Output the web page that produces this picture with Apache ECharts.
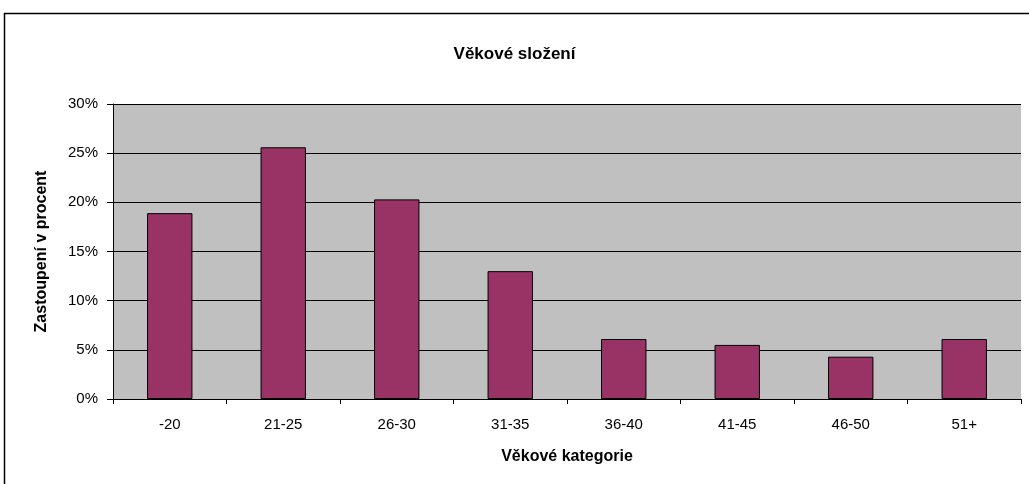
<!DOCTYPE html>
<html>
<head>
<meta charset="utf-8">
<script src="https://cdn.jsdelivr.net/npm/echarts@6/dist/echarts.min.js"></script>
<style>
  html, body { margin: 0; padding: 0; background: #fff; }
  #chart { width: 1029px; height: 484px; }
</style>
</head>
<body>
<div id="chart"></div>
<script>
// data
var categories = ['-20', '21-25', '26-30', '31-35', '36-40', '41-45', '46-50', '51+']
var shares = [18.9, 25.6, 20.3, 13.0, 6.1, 5.5, 4.3, 6.1]
var yTicks = { min: 0, max: 30, step: 5 }

var font = '"Liberation Sans", Arial, sans-serif'
var chart = echarts.init(document.getElementById('chart'))

chart.setOption({
  animation: false,
  textStyle: { fontFamily: font },
  title: {
    text: 'Věkové složení',
    left: 'center',
    top: 41,
    textStyle: { fontSize: 17, fontWeight: 'bold', color: '#000', fontFamily: font }
  },
  graphic: [{
    type: 'rect',
    shape: { x: 4.5, y: 13.5, width: 1200, height: 700 },
    style: { fill: 'none', stroke: '#000', lineWidth: 1.5 },
    silent: true
  }],
  grid: {
    left: 113,
    right: 8,
    top: 104,
    bottom: 85,
    show: true,
    backgroundColor: '#C0C0C0',
    borderWidth: 0
  },
  xAxis: {
    type: 'category',
    data: categories,
    name: 'Věkové kategorie',
    nameLocation: 'middle',
    nameGap: 50,
    nameTextStyle: { fontSize: 16, fontWeight: 'bold', color: '#000', fontFamily: font },
    axisLine: { lineStyle: { color: '#000', width: 1 } },
    axisTick: { show: true, length: 5, lineStyle: { color: '#000' } },
    axisLabel: { fontSize: 15, color: '#000', margin: 18, fontFamily: font }
  },
  yAxis: {
    type: 'value',
    min: yTicks.min,
    max: yTicks.max,
    interval: yTicks.step,
    name: 'Zastoupení v procent',
    nameLocation: 'middle',
    nameGap: 63,
    nameTextStyle: { fontSize: 16, fontWeight: 'bold', color: '#000', fontFamily: font },
    axisLine: { show: true, lineStyle: { color: '#000', width: 1 } },
    axisTick: { show: true, length: 6, lineStyle: { color: '#000' } },
    axisLabel: { fontSize: 15, color: '#000', margin: 15, fontFamily: font, formatter: '{value}%' },
    splitLine: { show: true, lineStyle: { color: '#000', width: 1 } }
  },
  series: [{
    type: 'bar',
    data: shares,
    barCategoryGap: '60%',
    itemStyle: { color: '#993366', borderColor: '#000', borderWidth: 1 }
  }]
})
</script>
</body>
</html>
